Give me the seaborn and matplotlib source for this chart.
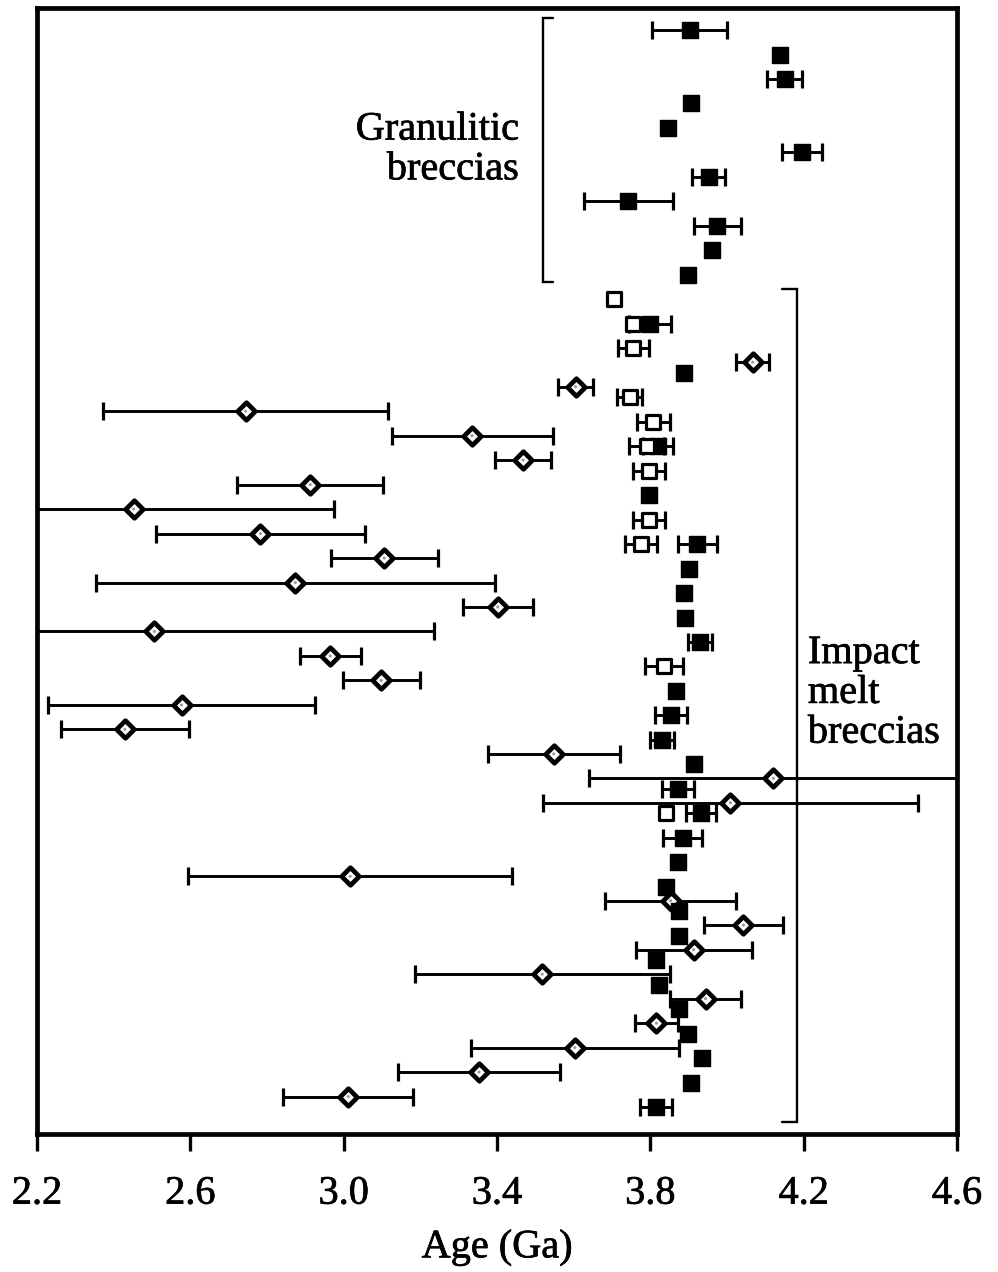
import numpy as np
import pandas as pd
import matplotlib
matplotlib.use("Agg")
import matplotlib.pyplot as plt
import matplotlib.patheffects as pe
import seaborn as sns

# ---------------- data (ages in Ga, 1-sigma errors) ----------------
# Granulitic breccias: filled squares, rows 0-10
gran_rows = [0, 1, 2, 3, 4, 5, 6, 7, 8, 9, 10]
gran_age = [3.903, 4.138, 4.150, 3.905, 3.845, 4.196, 3.952, 3.743, 3.975, 3.962, 3.897]
gran_err = [0.098, 0.0, 0.045, 0.0, 0.0, 0.052, 0.043, 0.115, 0.062, 0.0, 0.0]

# Impact melt breccias: filled squares
melt_f_rows = [12, 14, 17, 19, 21, 22, 23, 24, 25, 27, 28, 29, 30, 31, 32, 33,
               34, 35, 36, 37, 38, 39, 40, 41, 42, 43, 44]
melt_f_age = [3.800, 3.887, 3.820, 3.796, 3.923, 3.900, 3.887, 3.890, 3.930, 3.868,
              3.853, 3.830, 3.913, 3.872, 3.931, 3.884, 3.871, 3.840, 3.874, 3.874,
              3.814, 3.822, 3.876, 3.897, 3.936, 3.905, 3.815]
melt_f_err = [0.055, 0.0, 0.040, 0.0, 0.052, 0.0, 0.0, 0.0, 0.031, 0.0,
              0.042, 0.031, 0.0, 0.041, 0.039, 0.051, 0.0, 0.0, 0.0, 0.0,
              0.0, 0.0, 0.0, 0.0, 0.0, 0.0, 0.042]

# Impact melt breccias: open squares
melt_o_rows = [11, 12, 13, 15, 16, 17, 18, 20, 21, 26, 32]
melt_o_age = [3.704, 3.755, 3.756, 3.746, 3.808, 3.790, 3.796, 3.796, 3.775, 3.835, 3.840]
melt_o_err = [0.0, 0.0, 0.040, 0.033, 0.043, 0.045, 0.042, 0.042, 0.042, 0.050, 0.0]

# Impact melt breccias: diamonds (plotted between sample rows)
dia_rows = [13, 14, 15, 16, 17, 18, 19, 20, 21, 22, 23, 24, 25, 26, 27, 28, 29, 30, 31,
            34, 35, 36, 37, 38, 39, 40, 41, 42, 43]
dia_age = [4.067, 3.605, 2.744, 3.335, 3.468, 2.913, 2.452, 2.783, 3.106, 2.874,
           3.402, 2.506, 2.965, 3.098, 2.577, 2.429, 3.548, 4.121, 4.009,
           3.017, 3.853, 4.043, 3.913, 3.518, 3.944, 3.816, 3.603, 3.353, 3.012]
dia_err = [0.043, 0.045, 0.371, 0.210, 0.074, 0.190, 0.524, 0.272, 0.139, 0.521,
           0.091, 0.730, 0.080, 0.100, 0.348, 0.167, 0.172, 0.482, 0.490,
           0.422, 0.170, 0.103, 0.151, 0.333, 0.092, 0.057, 0.271, 0.211, 0.169]

x_ticks = [2.2, 2.6, 3.0, 3.4, 3.8, 4.2, 4.6]
x_tick_labels = ["2.2", "2.6", "3.0", "3.4", "3.8", "4.2", "4.6"]
x_label = "Age (Ga)"
label_gran = "Granulitic\nbreccias"
label_melt = "Impact\nmelt\nbreccias"

# ---------------- style ----------------
sns.set_theme(style="white")
plt.rcParams["font.family"] = ["Liberation Serif", "DejaVu Serif"]
plt.rcParams["text.color"] = "black"
plt.rcParams["axes.labelcolor"] = "black"
plt.rcParams["xtick.color"] = "black"
FS = 29
thick = [pe.withStroke(linewidth=0.5, foreground="black")]

DIA_OFFSET = 0.57

df_f = pd.DataFrame({"age": gran_age + melt_f_age,
                     "row": gran_rows + melt_f_rows,
                     "err": gran_err + melt_f_err})
df_o = pd.DataFrame({"age": melt_o_age, "row": melt_o_rows, "err": melt_o_err})
df_d = pd.DataFrame({"age": dia_age, "row": np.array(dia_rows) + DIA_OFFSET, "err": dia_err})

fig = plt.figure(figsize=(9.98, 12.72), dpi=100)
ax = fig.add_axes([37 / 998, 1 - 1134 / 1272, 920 / 998, (1134 - 8) / 1272])

eb_kw = dict(fmt="none", ecolor="black", elinewidth=2.1, capsize=6.5, capthick=2.3, zorder=2)
for d in (df_f, df_o, df_d):
    sub = d[d["err"] > 0]
    ax.errorbar(sub["age"], sub["row"], xerr=sub["err"], **eb_kw)

sns.scatterplot(data=df_d, x="age", y="row", marker="D", s=80, color="white",
                edgecolor="black", linewidth=3.4, ax=ax, zorder=3, legend=False)
sns.scatterplot(data=df_d, x="age", y="row", marker="o", s=5, color="#9a9a9a",
                edgecolor="none", linewidth=0, ax=ax, zorder=3.5, legend=False)
sns.scatterplot(data=df_f, x="age", y="row", marker="s", s=130, color="black",
                edgecolor="black", linewidth=1.0, ax=ax, zorder=4, legend=False)
sns.scatterplot(data=df_o, x="age", y="row", marker="s", s=105, color="white",
                edgecolor="black", linewidth=2.3, ax=ax, zorder=4, legend=False)

# group brackets
ax.plot([3.546, 3.520, 3.520, 3.546], [-0.49, -0.49, 10.29, 10.29],
        color="black", lw=1.7, zorder=1, solid_joinstyle="miter")
ax.plot([4.144, 4.183, 4.183, 4.144], [10.58, 10.58, 44.61, 44.61],
        color="black", lw=1.7, zorder=1, solid_joinstyle="miter")

ax.text(3.457, 4.9, label_gran, ha="right", va="center", fontsize=FS,
        linespacing=1.1, color="black", path_effects=thick)
ax.text(4.211, 27.1, label_melt, ha="left", va="center", fontsize=FS,
        linespacing=1.1, color="black", path_effects=thick)

ax.set_xlim(2.2, 4.6)
ax.set_ylim(45.1, -0.9)
ax.set_yticks([])
ax.set_xticks(x_ticks)
ax.set_xticklabels(x_tick_labels, fontsize=FS, color="black", path_effects=thick)
ax.set_xlabel(x_label, fontsize=FS, labelpad=12, color="black", path_effects=thick)
ax.set_ylabel("")
ax.tick_params(axis="x", direction="out", length=12, width=2.4, pad=18,
               bottom=True, colors="black")
for sp in ax.spines.values():
    sp.set_linewidth(3.4)
    sp.set_color("black")
    sp.set_visible(True)

fig.savefig("out.png", dpi=100, facecolor="white")
